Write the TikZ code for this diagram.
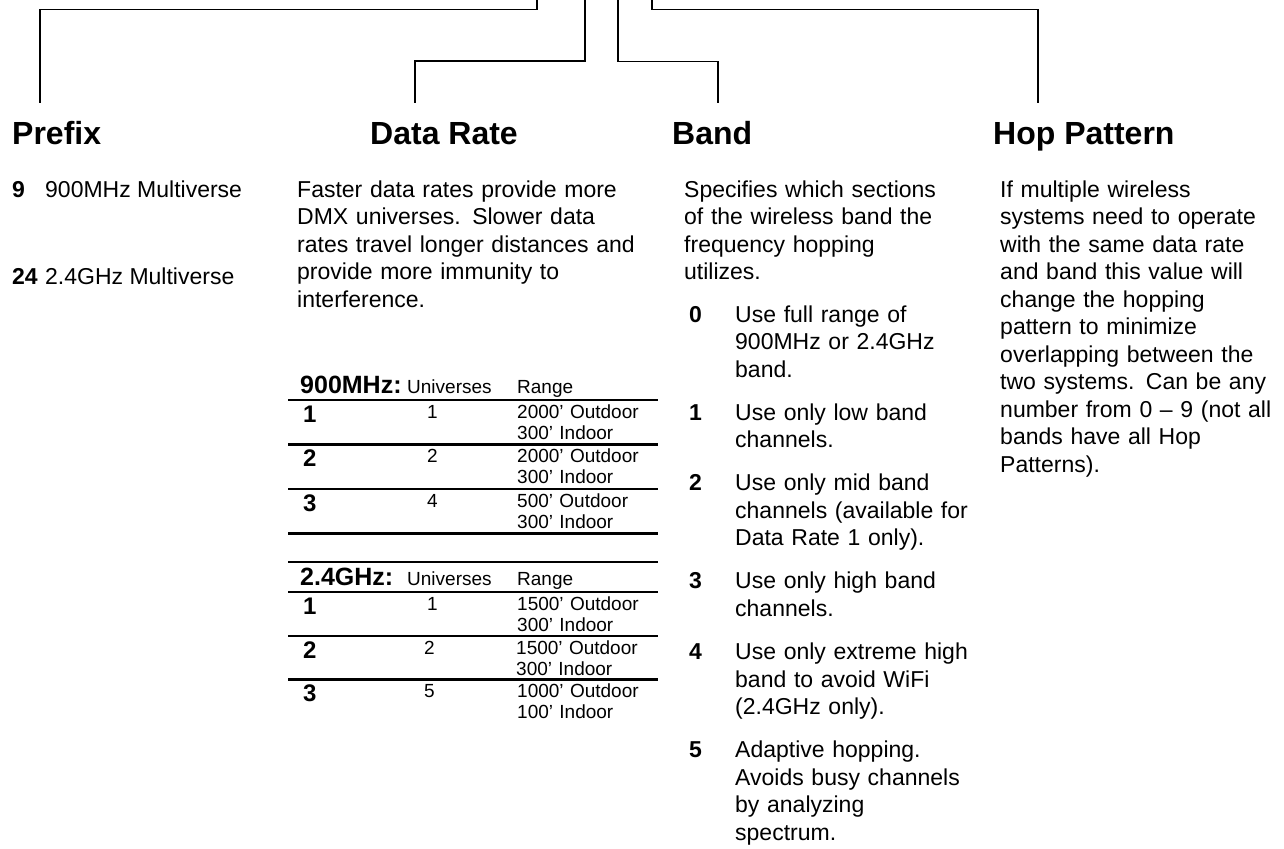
\documentclass[tikz,border=0pt]{standalone}
\usepackage{fontspec}
\setmainfont{Liberation Sans}
\usepackage{tikz}

\begin{document}
\begin{tikzpicture}[x=1pt,y=-1pt]
	\tikzstyle{heading} = [anchor=base west, inner sep=0pt, font=\fontsize{32}{38}\selectfont\bfseries]
	\tikzstyle{bodyline} = [anchor=base west, inner sep=0pt, font=\fontsize{23}{27.5}\selectfont]
	\tikzstyle{bodypara} = [bodyline, text width=360pt, align=left]
	\tikzstyle{bodynum} = [bodyline, font=\fontsize{23}{27.5}\selectfont\bfseries]
	\tikzstyle{rownum} = [anchor=base west, inner sep=0pt, font=\fontsize{24}{28}\selectfont\bfseries]
	\tikzstyle{tabhead} = [anchor=base west, inner sep=0pt, font=\fontsize{25}{30}\selectfont\bfseries]
	\tikzstyle{tabcell} = [anchor=base west, inner sep=0pt, text width=150pt, align=left, font=\fontsize{19}{21}\selectfont]
	\tikzstyle{tabrule} = [line width=2.2pt]
	\tikzstyle{connector} = [line width=1.1pt]
	\useasboundingbox (0,0) rectangle (1284,848);

	% headings
	\node[heading] (prefix) at (12,144) {Prefix};
	\node[heading] (rate) at (370,144) {Data Rate};
	\node[heading] (band) at (672,144) {Band};
	\node[heading] (hop) at (993,144) {Hop Pattern};

	% connectors from the top edge
	\coordinate (prefix end) at (40,103);
	\coordinate (prefix top) at (537,0);
	\coordinate (rate end) at (415,103);
	\coordinate (rate top) at (585,0);
	\coordinate (band end) at (718,103);
	\coordinate (band top) at (618,0);
	\coordinate (hop end) at (1038,103);
	\coordinate (hop top) at (652,0);
	\draw[connector] (prefix end) |- (537,9.5) -- (prefix top);
	\draw[connector] (rate end) |- (585,61) -- (rate top);
	\draw[connector] (band end) |- (618,61.5) -- (band top);
	\draw[connector] (hop end) |- (652,9.5) -- (hop top);

	% prefix
	\node[bodynum] (p9) at (12,197) {9};
	\node[bodyline] (p9 text) at (45,197) {900MHz Multiverse};
	\node[bodynum] (p24) at (12,284) {24};
	\node[bodyline] (p24 text) at (45,284) {2.4GHz Multiverse};

	% data rate
	\node[bodypara] (rate text) at (297,197) {Faster data rates provide more\\
		DMX universes. Slower data\\
		rates travel longer distances and\\
		provide more immunity to\\
		interference.};

	% 900MHz table
	\node[tabhead] (t9) at (300,393) {900MHz:};
	\node[tabcell] (t9 univ) at (407,393) {Universes};
	\node[tabcell] (t9 range) at (517,393) {Range};
	\draw[tabrule] (288,400) -- (658,400);
	\node[rownum] (t9 r1) at (303,422) {1};
	\node[tabcell] (t9 u1) at (427,418) {1};
	\node[tabcell] (t9 g1) at (517,418) {2000’ Outdoor\\300’ Indoor};
	\draw[tabrule] (288,444.5) -- (658,444.5);
	\node[rownum] (t9 r2) at (303,466.5) {2};
	\node[tabcell] (t9 u2) at (427,462.5) {2};
	\node[tabcell] (t9 g2) at (517,462.5) {2000’ Outdoor\\300’ Indoor};
	\draw[tabrule] (288,489) -- (658,489);
	\node[rownum] (t9 r3) at (303,511) {3};
	\node[tabcell] (t9 u3) at (427,507) {4};
	\node[tabcell] (t9 g3) at (517,507) {500’ Outdoor\\300’ Indoor};
	\draw[tabrule] (288,533.5) -- (658,533.5);

	% 2.4GHz table
	\draw[tabrule] (288,562) -- (658,562);
	\node[tabhead] (t24) at (300,585) {2.4GHz:};
	\node[tabcell] (t24 univ) at (407,585) {Universes};
	\node[tabcell] (t24 range) at (517,585) {Range};
	\draw[tabrule] (288,592) -- (658,592);
	\node[rownum] (t24 r1) at (303,614) {1};
	\node[tabcell] (t24 u1) at (427,610) {1};
	\node[tabcell] (t24 g1) at (517,610) {1500’ Outdoor\\300’ Indoor};
	\draw[tabrule] (288,636) -- (658,636);
	\node[rownum] (t24 r2) at (303,658) {2};
	\node[tabcell] (t24 u2) at (424,654) {2};
	\node[tabcell] (t24 g2) at (516,654) {1500’ Outdoor\\300’ Indoor};
	\draw[tabrule] (288,679.5) -- (658,679.5);
	\node[rownum] (t24 r3) at (303,701.5) {3};
	\node[tabcell] (t24 u3) at (424,697.5) {5};
	\node[tabcell] (t24 g3) at (517,697.5) {1000’ Outdoor\\100’ Indoor};

	% band
	\node[bodypara] (band text) at (684,197) {Specifies which sections\\
		of the wireless band the\\
		frequency hopping\\
		utilizes.};
	\node[bodynum] (b0) at (689,322) {0};
	\node[bodypara] (b0 text) at (735,322) {Use full range of\\900MHz or 2.4GHz\\band.};
	\node[bodynum] (b1) at (689,420) {1};
	\node[bodypara] (b1 text) at (735,420) {Use only low band\\channels.};
	\node[bodynum] (b2) at (689,490.5) {2};
	\node[bodypara] (b2 text) at (735,490.5) {Use only mid band\\channels (available for\\Data Rate 1 only).};
	\node[bodynum] (b3) at (689,588.5) {3};
	\node[bodypara] (b3 text) at (735,588.5) {Use only high band\\channels.};
	\node[bodynum] (b4) at (689,659.5) {4};
	\node[bodypara] (b4 text) at (735,659.5) {Use only extreme high\\band to avoid WiFi\\(2.4GHz only).};
	\node[bodynum] (b5) at (689,757.5) {5};
	\node[bodypara] (b5 text) at (735,757.5) {Adaptive hopping.\\Avoids busy channels\\by analyzing\\spectrum.};

	% hop pattern
	\node[bodypara] (hop text) at (1000,197) {If multiple wireless\\
		systems need to operate\\
		with the same data rate\\
		and band this value will\\
		change the hopping\\
		pattern to minimize\\
		overlapping between the\\
		two systems. Can be any\\
		number from 0 – 9 (not all\\
		bands have all Hop\\
		Patterns).};
\end{tikzpicture}
\end{document}
